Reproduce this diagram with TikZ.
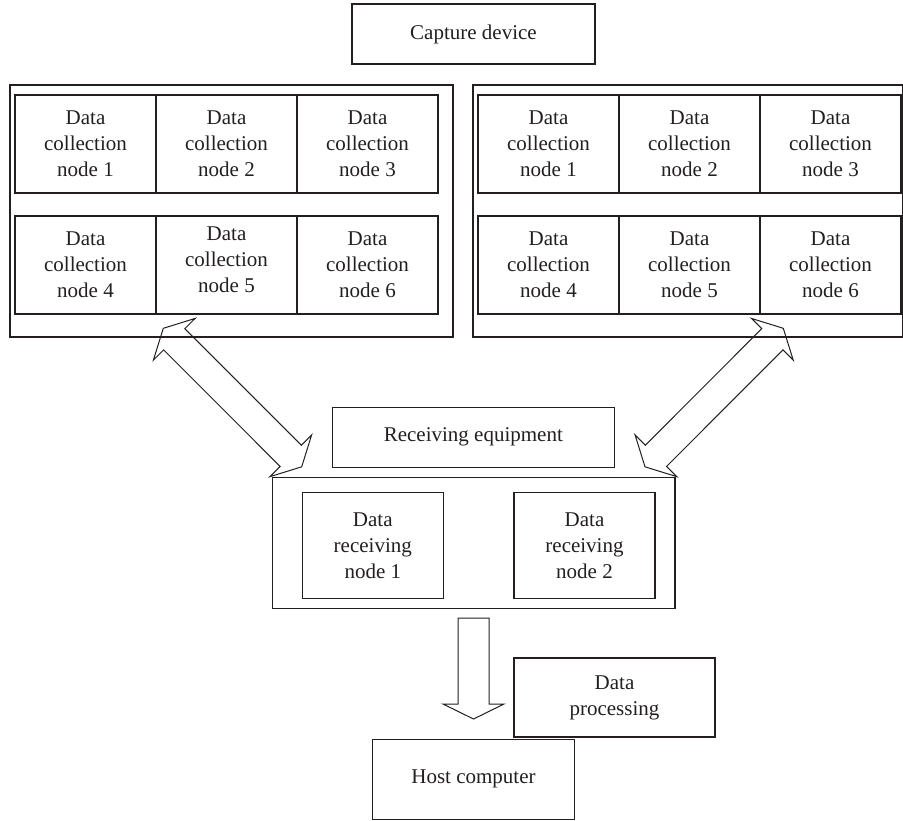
\documentclass[tikz,border=0pt]{standalone}
\usepackage{fontspec}
\setmainfont{Liberation Serif}
\usetikzlibrary{calc}
\definecolor{ink}{RGB}{35,31,32}
\newcommand\blockdbl[2]{%
 \coordinate (#1-h) at ($(#1)!15.5pt!(#2)$);
 \coordinate (#2-h) at ($(#2)!15.5pt!(#1)$);
 \draw[arrowline] (#1) -- ($(#1-h)!29.5pt!90:(#2)$) -- ($(#1-h)!15pt!90:(#2)$)
   -- ($(#2-h)!15pt!-90:(#1)$) -- ($(#2-h)!29.5pt!-90:(#1)$) -- (#2)
   -- ($(#2-h)!29.5pt!90:(#1)$) -- ($(#2-h)!15pt!90:(#1)$)
   -- ($(#1-h)!15pt!-90:(#2)$) -- ($(#1-h)!29.5pt!-90:(#2)$) -- cycle;}
\newcommand\blocksgl[2]{%
 \coordinate (#2-h) at ($(#2)!15pt!(#1)$);
 \draw[arrowline] ($(#1)!15.5pt!90:(#2)$) -- ($(#2-h)!15.5pt!-90:(#1)$)
   -- ($(#2-h)!30.5pt!-90:(#1)$) -- (#2) -- ($(#2-h)!30.5pt!90:(#1)$)
   -- ($(#2-h)!15.5pt!90:(#1)$) -- ($(#1)!15.5pt!-90:(#2)$) -- cycle;}
\begin{document}
\begin{tikzpicture}[x=1pt,y=-1pt,
  box/.style={draw=ink, line width=1.1pt, rectangle, inner sep=0pt, outer sep=0pt,
    text=ink, align=center, font=\fontsize{21}{26}\selectfont},
  cell/.style={box, minimum width=141pt, minimum height=98pt},
  rnode/.style={box, minimum width=141pt, minimum height=105.6pt},
  arrowline/.style={draw=ink, line width=1pt, line join=miter}]
\useasboundingbox (0,0) rectangle (903,820);

% capture device
\node[box, minimum width=243pt, minimum height=60pt] (cap) at (473.5,34) {Capture device};

% left group
\node[box, minimum width=443pt, minimum height=252pt] (lgrp) at (231.5,211) {};
\node[cell] (l1) at (85.5,144) {Data\\collection\\node 1};
\node[cell] (l2) at (226.5,144) {Data\\collection\\node 2};
\node[cell] (l3) at (367.5,144) {Data\\collection\\node 3};
\node[cell] (l4) at (85.5,265) {Data\\collection\\node 4};
\node[cell] (l5) at (226.5,265) {};
\node[box, draw=none] (l5t) at (226.5,260) {Data\\collection\\node 5};
\node[cell] (l6) at (367.5,265) {Data\\collection\\node 6};

% right group
\node[box, minimum width=430pt, minimum height=252pt] (rgrp) at (688,211) {};
\node[cell] (r1) at (548.5,144) {Data\\collection\\node 1};
\node[cell] (r2) at (689.5,144) {Data\\collection\\node 2};
\node[cell] (r3) at (830.5,144) {Data\\collection\\node 3};
\node[cell] (r4) at (548.5,265) {Data\\collection\\node 4};
\node[cell] (r5) at (689.5,265) {Data\\collection\\node 5};
\node[cell] (r6) at (830.5,265) {Data\\collection\\node 6};

% receiving equipment
\node[box, minimum width=282pt, minimum height=60pt] (recv) at (473.3,437.3) {Receiving equipment};
\node[box, minimum width=402.7pt, minimum height=131pt] (rgrpb) at (473.65,542.8) {};
\node[rnode] (d1) at (372.8,545.5) {Data\\receiving\\node 1};
\node[rnode] (d2) at (584.5,545.5) {Data\\receiving\\node 2};

% processing and host
\node[box, minimum width=201pt, minimum height=79pt] (proc) at (614.5,697.5) {Data\\processing};
\node[box, minimum width=201.6pt, minimum height=80pt] (host) at (473.5,779.3) {Host computer};

% block arrows
\coordinate (la1) at (163.3,328.3);
\coordinate (la2) at (301.7,466.8);
\coordinate (ra1) at (783.3,328.3);
\coordinate (ra2) at (645,466.8);
\coordinate (da1) at (473.5,618);
\coordinate (da2) at (473.5,719);
\blockdbl{la1}{la2}
\blockdbl{ra1}{ra2}
\blocksgl{da1}{da2}
\end{tikzpicture}
\end{document}
